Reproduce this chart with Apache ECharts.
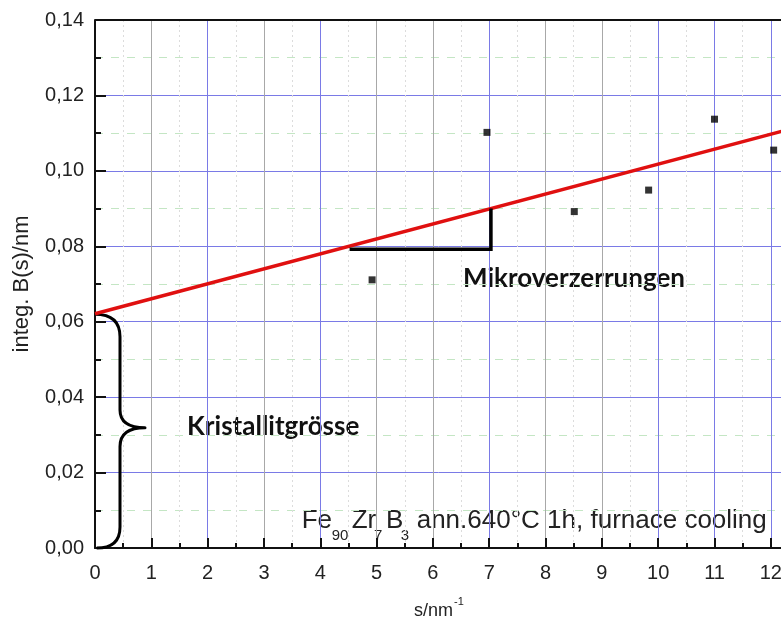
<!DOCTYPE html>
<html><head><meta charset="utf-8">
<script src="https://cdn.jsdelivr.net/npm/echarts@6/dist/echarts.min.js"></script>
<style>html,body{margin:0;padding:0;background:#fff}#c{width:781px;height:626px}</style>
</head><body><div id="c"></div>
<script>
// measured points
const sValues = [4.92, 6.96, 8.51, 9.83, 11.0, 12.05];
const bValues = [0.0711, 0.1102, 0.0892, 0.0949, 0.1137, 0.1055];
// linear fit line end points
const fitX = [0, 12.5];
const fitY = [0.0621, 0.1117];
// slope triangle (Mikroverzerrungen)
const strainX = [4.52, 7.03, 7.03];
const strainY = [0.0792, 0.0792, 0.0900];
// curly brace (Kristallitgrösse): x of axis, spine, tip; y levels bottom..top
const braceX = [0.0, 0.444, 0.888];
const braceY = [0.0, 0.0056, 0.0269, 0.0319, 0.0366, 0.056, 0.062];
const xTickValues = [0,1,2,3,4,5,6,7,8,9,10,11,12];
const yTickValues = [0,0.02,0.04,0.06,0.08,0.10,0.12,0.14];
const xRange = [0, 12.5];
const yRange = [0, 0.14];

const BLUE = '#7a7ae6', GRAY = '#a8a8a8';
const vColors = [GRAY, BLUE, GRAY, BLUE, GRAY, GRAY, BLUE, GRAY, GRAY, BLUE, BLUE, BLUE, GRAY];

const chart = echarts.init(document.getElementById('c'), null, {renderer: 'canvas'});
const labelFont = 'Liberation Sans, Arial, sans-serif';
const TICK = '#111';

const option = {
  animation: false,
  backgroundColor: '#fff',
  grid: {left: 95, top: 20, right: -18, bottom: 78, containLabel: false, outerBoundsMode: 'none'},
  xAxis: [{
    type: 'value', min: xRange[0], max: xRange[1], interval: 1,
    name: '{a|s/nm}{b|-1}', nameLocation: 'middle', nameGap: 48,
    nameTextStyle: {padding: [0, 16, 0, 0], rich: {
      a: {fontFamily: labelFont, fontSize: 18, color: '#222', verticalAlign: 'bottom', lineHeight: 24},
      b: {fontFamily: labelFont, fontSize: 11, color: '#222', verticalAlign: 'top', lineHeight: 24, padding: [0,0,0,1]}
    }},
    axisLine: {show: true, onZero: false, lineStyle: {color: '#111', width: 2}},
    axisTick: {show: true, inside: true, length: 10, lineStyle: {color: TICK, width: 2}},
    minorTick: {show: true, splitNumber: 2, length: 5, lineStyle: {color: TICK, width: 2}},
    axisLabel: {margin: 15, fontFamily: labelFont, fontSize: 20, color: '#222',
      formatter: v => (xTickValues.indexOf(v) >= 0 ? String(v) : '')},
    splitLine: {show: true, showMinLine: false, lineStyle: {color: vColors, width: 1}},
    minorSplitLine: {show: true, lineStyle: {color: '#dcdcdc', width: 1, type: [2, 3]}}
  }],
  yAxis: [{
    type: 'value', min: yRange[0], max: yRange[1], interval: 0.02,
    name: 'integ. B(s)/nm', nameLocation: 'middle', nameGap: 62, nameRotate: 90,
    nameTextStyle: {fontFamily: labelFont, fontSize: 22, color: '#222'},
    axisLine: {show: true, onZero: false, lineStyle: {color: '#111', width: 2}},
    axisTick: {show: true, inside: true, length: 11, lineStyle: {color: TICK, width: 2}},
    minorTick: {show: true, splitNumber: 2, length: 6, lineStyle: {color: TICK, width: 2}},
    axisLabel: {margin: 11, fontFamily: labelFont, fontSize: 20, color: '#222',
      formatter: v => v.toFixed(2).replace('.', ',')},
    splitLine: {show: true, showMinLine: false, showMaxLine: false, lineStyle: {color: BLUE, width: 1}},
    minorSplitLine: {show: true, lineStyle: {color: '#c4e6c4', width: 1, type: [8, 8]}}
  }],
  series: [
    {
      // top frame line of the plot box
      type: 'line', showSymbol: false, symbol: 'none', silent: true, clip: false,
      lineStyle: {color: '#111', width: 2},
      data: [[xRange[0], yRange[1]], [xRange[1], yRange[1]]], z: 6
    },
    {
      type: 'scatter', symbol: 'rect', symbolSize: 7,
      itemStyle: {color: '#000'},
      data: sValues.map((s, i) => [s, bValues[i]]), z: 5
    },
    {
      type: 'line', showSymbol: false, symbol: 'none',
      lineStyle: {color: '#e01010', width: 3.5},
      data: fitX.map((x, i) => [x, fitY[i]]), z: 4, clip: true
    },
    {
      type: 'line', showSymbol: false, symbol: 'none',
      lineStyle: {color: '#000', width: 3.5, join: 'miter'},
      data: strainX.map((x, i) => [x, strainY[i]]), z: 4
    },
    {
      type: 'custom', clip: false, z: 4,
      data: [[0, 0]],
      renderItem: function (params, api) {
        const P = (x, y) => api.coord([x, y]);
        const [x0, xs, xt] = braceX;
        const [yb, yb1, ym0, ym, ym1, yt1, yt] = braceY;
        const pts = {
          a: P(x0, yt), c1: P(xs, yt), b: P(xs, yt1), c: P(xs, ym1), c2: P(xs, ym), tip: P(xt, ym),
          d: P(xs, ym0), e: P(xs, yb1), c3: P(xs, yb), f: P(x0 + 0.03, yb)
        };
        const f = p => p[0].toFixed(1) + ' ' + p[1].toFixed(1);
        const d = 'M' + f(pts.a) + ' Q' + f(pts.c1) + ' ' + f(pts.b) +
          ' L' + f(pts.c) + ' Q' + f(pts.c2) + ' ' + f(pts.tip) +
          ' Q' + f(pts.c2) + ' ' + f(pts.d) + ' L' + f(pts.e) +
          ' Q' + f(pts.c3) + ' ' + f(pts.f);
        return {type: 'path', shape: {pathData: d},
          style: {stroke: '#000', fill: null, lineWidth: 3, lineJoin: 'round'}};
      }
    }
  ],
  graphic: [
    {type: 'text', left: 463, top: 266, style: {text: 'Mikroverzerrungen', font: 'bold 26px Lato, "Open Sans", sans-serif', fill: '#111'}},
    {type: 'text', left: 187, top: 414, style: {text: 'Kristallitgrösse', font: 'bold 26px Lato, "Open Sans", sans-serif', fill: '#111'}},
    {type: 'text', x: 301.7, y: 521, style: {text: 'Fe', font: '26px "Liberation Sans", Arial, sans-serif', fill: '#222', verticalAlign: 'middle'}},
    {type: 'text', x: 331.7, y: 535.5, style: {text: '90', font: '15px "Liberation Sans", Arial, sans-serif', fill: '#222', verticalAlign: 'middle'}},
    {type: 'text', x: 351.7, y: 521, style: {text: 'Zr', font: '26px "Liberation Sans", Arial, sans-serif', fill: '#222', verticalAlign: 'middle'}},
    {type: 'text', x: 374, y: 535.5, style: {text: '7', font: '15px "Liberation Sans", Arial, sans-serif', fill: '#222', verticalAlign: 'middle'}},
    {type: 'text', x: 386, y: 521, style: {text: 'B', font: '26px "Liberation Sans", Arial, sans-serif', fill: '#222', verticalAlign: 'middle'}},
    {type: 'text', x: 400.7, y: 535.5, style: {text: '3', font: '15px "Liberation Sans", Arial, sans-serif', fill: '#222', verticalAlign: 'middle'}},
    {type: 'text', x: 416.7, y: 521, style: {text: 'ann.640°C 1h, furnace cooling', font: '26px "Liberation Sans", Arial, sans-serif', fill: '#222', verticalAlign: 'middle'}}
  ]
};
chart.setOption(option);
</script>
</body></html>
